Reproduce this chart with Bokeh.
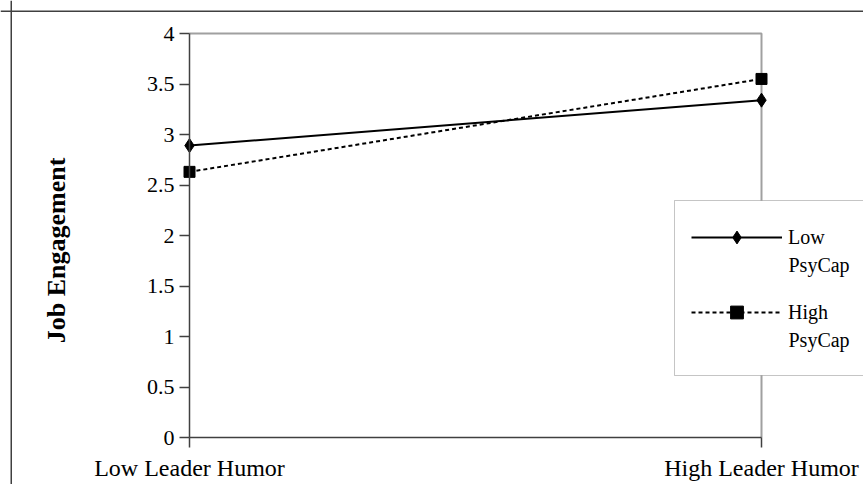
import math
from bokeh.plotting import figure
from bokeh.models import (Legend, LegendItem, FixedTicker, NumeralTickFormatter,
                          Range1d, ColumnDataSource, Span, Label, BoxAnnotation)
from bokeh.embed import file_html
from bokeh.resources import INLINE

categories = ["Low Leader Humor", "High Leader Humor"]
low_psycap = [2.89, 3.34]
high_psycap = [2.63, 3.55]
series_first = ["Low", "High"]
series_second = ["PsyCap", "PsyCap"]
y_ticks = [0, 0.5, 1, 1.5, 2, 2.5, 3, 3.5, 4]

FONT = "Liberation Serif"
W, H = 863, 484
# plot-area geometry in canvas pixels
PX_L, PX_R, PX_T, PX_B = 189, 761, 33, 437

xs = list(range(len(categories)))
x0, x1 = xs[0], xs[-1]
y0, y1 = y_ticks[0], y_ticks[-1]
kx = (x1 - x0) / (PX_R - PX_L)
ky = (y1 - y0) / (PX_B - PX_T)


def xd(px):
    return x0 + (px - PX_L) * kx


def yd(py):
    return y0 + (PX_B - py) * ky


p = figure(width=W, height=H, output_backend="svg", toolbar_location=None,
           title=None,
           x_range=Range1d(xd(0), xd(W)), y_range=Range1d(yd(H), yd(0)),
           min_border=0)
p.grid.visible = False
p.outline_line_color = None
p.background_fill_color = "white"
p.border_fill_color = "white"

# outer frame (left and top edges visible)
p.add_layout(Span(location=xd(10.75), dimension="height", line_color="#404040", line_width=1.5))
p.add_layout(Span(location=yd(10.75), dimension="width", line_color="#404040", line_width=1.5))

# plot-area outline (top & right, gray)
p.line([x0, x1, x1], [y1, y1, y0], line_color="#a0a0a0", line_width=2)

src_low = ColumnDataSource(dict(x=xs, y=low_psycap))
src_high = ColumnDataSource(dict(x=xs, y=high_psycap))

l1 = p.line("x", "y", source=src_low, line_color="black", line_width=2)
m1 = p.scatter("x", "y", source=src_low, marker="diamond", size=14, color="black")
l2 = p.line("x", "y", source=src_high, line_color="black", line_width=2, line_dash="4 3")
m2 = p.scatter("x", "y", source=src_high, marker="square", size=11, color="black")

# axes
p.xaxis.fixed_location = y0
p.yaxis.fixed_location = x0
p.xaxis.bounds = (x0, x1)
p.yaxis.bounds = (y0, y1)
p.xaxis.ticker = FixedTicker(ticks=xs)
p.xaxis.major_label_overrides = {i: c for i, c in enumerate(categories)}
p.yaxis.ticker = FixedTicker(ticks=y_ticks)
p.yaxis.formatter = NumeralTickFormatter(format="0.[0]")
for ax in (p.xaxis[0], p.yaxis[0]):
    ax.axis_line_color = "#404040"
    ax.axis_line_width = 1.5
    ax.major_tick_line_color = "#404040"
    ax.major_tick_line_width = 1.5
    ax.major_tick_out = 10
    ax.major_tick_in = 0
    ax.minor_tick_out = 0
    ax.minor_tick_in = 0
    ax.major_label_text_font = FONT
    ax.major_label_text_color = "black"
p.xaxis.major_label_text_font_size = "24px"
p.yaxis.major_label_text_font_size = "22px"
p.xaxis.major_label_standoff = 7
p.yaxis.major_label_standoff = 5

p.add_layout(Label(x=xd(56), y=yd(250), text="Job Engagement", angle=math.pi / 2,
                   text_align="center", text_baseline="middle",
                   text_font=FONT, text_font_style="bold", text_font_size="26px",
                   text_color="black"))

# legend box
p.add_layout(BoxAnnotation(left=xd(674), right=xd(W + 40), top=yd(200), bottom=yd(375),
                           fill_color="white", fill_alpha=1,
                           line_color="#404040", line_width=1))

# one legend per series, placed on the box
GH = 32
item_rows = [237, 312]
renderer_sets = [[l1, m1], [l2, m2]]
for label, rends, row in zip(series_first, renderer_sets, item_rows):
    lg = Legend(items=[LegendItem(label=label, renderers=rends)],
                location=(691, H - (row + GH / 2)), orientation="vertical",
                glyph_width=91, glyph_height=GH, label_height=20,
                label_standoff=6, label_text_font=FONT, label_text_font_size="20px",
                label_text_color="black", border_line_color=None,
                background_fill_alpha=0, padding=0, margin=0, spacing=0)
    p.add_layout(lg, "center")

for text, row in zip(series_second, item_rows):
    p.add_layout(Label(x=xd(788), y=yd(row + 27), text=text, text_align="left",
                       text_baseline="middle", text_font=FONT, text_font_size="20px",
                       text_color="black"))

open("out.html", "w").write(file_html(p, INLINE))
